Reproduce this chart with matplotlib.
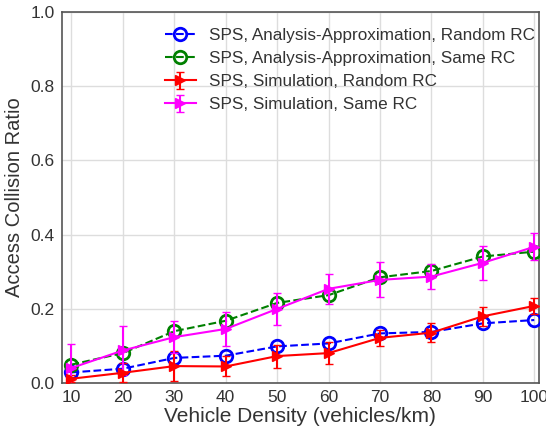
import matplotlib
matplotlib.use("Agg")
import matplotlib.pyplot as plt

density = [10, 20, 30, 40, 50, 60, 70, 80, 90, 100]

ana_random = [0.029, 0.039, 0.068, 0.074, 0.099, 0.107, 0.134, 0.138, 0.161, 0.170]
ana_same = [0.050, 0.081, 0.140, 0.168, 0.216, 0.237, 0.285, 0.302, 0.341, 0.354]

sim_random = [0.012, 0.028, 0.046, 0.045, 0.073, 0.081, 0.122, 0.136, 0.180, 0.208]
sim_random_err = [0.010, 0.025, 0.040, 0.027, 0.031, 0.030, 0.022, 0.025, 0.026, 0.021]
sim_same = [0.041, 0.088, 0.124, 0.146, 0.200, 0.254, 0.278, 0.287, 0.324, 0.367]
sim_same_err = [0.065, 0.067, 0.043, 0.046, 0.043, 0.041, 0.047, 0.034, 0.045, 0.036]

plt.rcParams['font.family'] = ['Liberation Sans', 'DejaVu Sans']

fig, ax = plt.subplots(figsize=(5.46, 4.32), dpi=100)

ax.plot(density, ana_random, '--o', color='blue', mfc='none', mew=2, ms=9, lw=1.5,
        label='SPS, Analysis-Approximation, Random RC', zorder=3)
ax.plot(density, ana_same, '--o', color='green', mfc='none', mew=2, ms=9, lw=1.5,
        label='SPS, Analysis-Approximation, Same RC', zorder=3)
ax.errorbar(density, sim_random, yerr=sim_random_err, fmt='->', color='red', ms=7,
            lw=1.5, capsize=3, label='SPS, Simulation, Random RC', zorder=4)
ax.errorbar(density, sim_same, yerr=sim_same_err, fmt='->', color='magenta', ms=7,
            lw=1.5, capsize=3, label='SPS, Simulation, Same RC', zorder=4)

ax.set_xlim(8.1, 100.9)
ax.set_ylim(0, 1.0)
ax.set_xticks(density)
ax.set_yticks([0, 0.2, 0.4, 0.6, 0.8, 1.0])
ax.set_yticklabels(['0.0', '0.2', '0.4', '0.6', '0.8', '1.0'])
ax.grid(True, color='#dddddd', lw=1)
ax.set_axisbelow(True)
for s in ax.spines.values():
    s.set_color('#555555')
    s.set_linewidth(1.2)
ax.tick_params(labelsize=12.5, colors='#333333', length=0, pad=5)
ax.set_xlabel('Vehicle Density (vehicles/km)', fontsize=15, color='#333333', labelpad=1)
ax.set_ylabel('Access Collision Ratio', fontsize=14.5, color='#333333', labelpad=5)

leg = ax.legend(loc='upper right', bbox_to_anchor=(1.021, 0.992), frameon=False,
                fontsize=12.3, handlelength=1.8, borderaxespad=0.2, borderpad=0.6,
                labelspacing=0.47, handletextpad=0.8)
for t in leg.get_texts():
    t.set_color('#333333')

fig.subplots_adjust(left=0.113, right=0.987, top=0.973, bottom=0.113)
fig.savefig('out.png', dpi=100)
